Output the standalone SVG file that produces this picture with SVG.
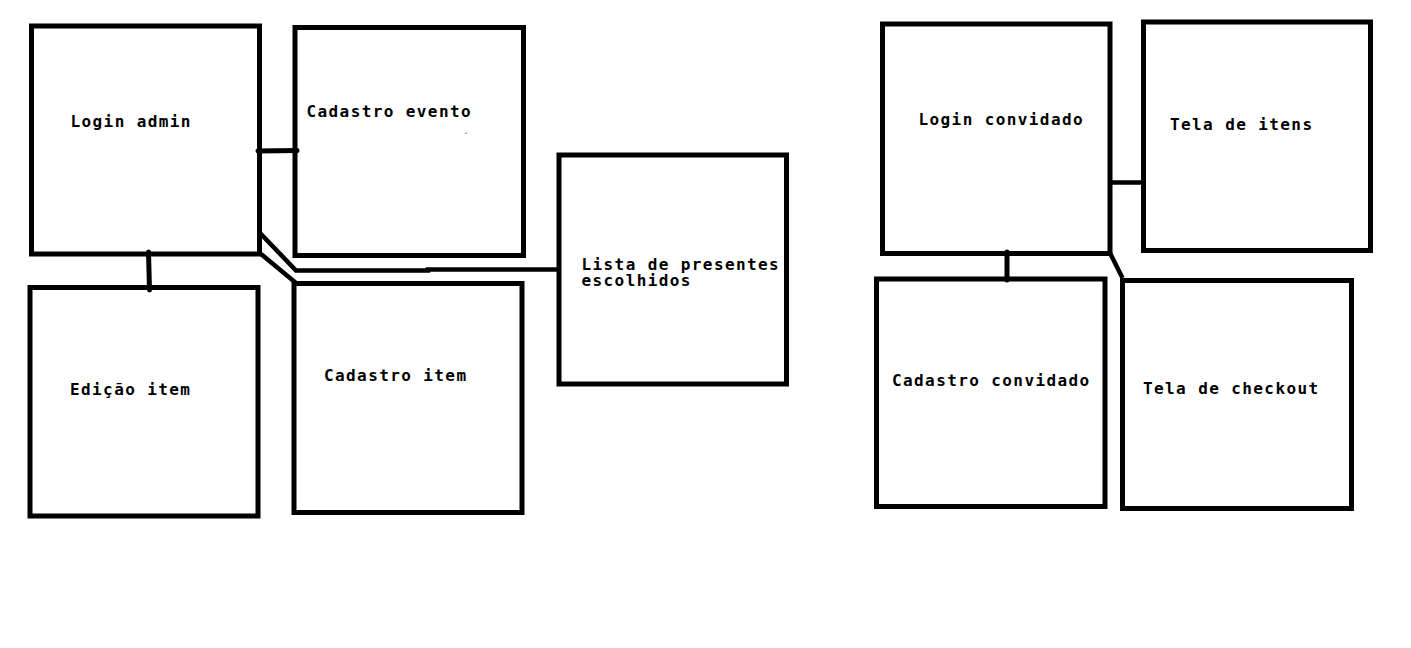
<svg xmlns="http://www.w3.org/2000/svg" width="1411" height="648" viewBox="0 0 1411 648">
<style>
.box{fill:none;stroke:#000;stroke-width:5}
.lbl{font-family:"DejaVu Sans Mono","Liberation Mono",monospace;font-weight:bold;font-size:16px;letter-spacing:1.4px;fill:#000}
.con{fill:none;stroke:#000;stroke-width:5;stroke-linecap:round;stroke-linejoin:round}
.con2{fill:none;stroke:#000;stroke-width:4.5;stroke-linecap:butt;stroke-linejoin:miter}
</style>
<rect width="1411" height="648" fill="#fff"/>
<g id="connectors">
<line class="con" x1="258" y1="151" x2="297" y2="150.5"/>
<line class="con" x1="148.5" y1="252" x2="149.5" y2="290"/>
<path class="con2" d="M259 232 L296 270.5 L428 270.5 L428 269.5 L559 269.5"/>
<path class="con2" d="M261 254 L296 283"/>
<line class="con2" x1="1110" y1="182.5" x2="1145" y2="182.5"/>
<line class="con" x1="1007" y1="252" x2="1007" y2="280"/>
<path class="con2" d="M1110 253 L1122.5 278"/>
</g>
<g id="login-admin"><rect class="box" x="31.5" y="26" width="228" height="228"/><text class="lbl" x="70.5" y="127">Login admin</text></g>
<g id="cadastro-evento"><rect class="box" x="295" y="27.5" width="228.5" height="228"/><text class="lbl" x="306.5" y="117">Cadastro evento</text><line x1="465.5" y1="134" x2="466.8" y2="132.5" stroke="#1a4fa0" stroke-width="1"/></g>
<g id="lista-presentes"><rect class="box" x="559" y="155" width="227.5" height="229"/><text class="lbl"><tspan x="581.5" y="269.5">Lista de presentes</tspan><tspan x="581.5" y="286">escolhidos</tspan></text></g>
<g id="edicao-item"><rect class="box" x="30" y="287.5" width="228" height="228.5"/><text class="lbl" x="70" y="395">Edição item</text></g>
<g id="cadastro-item"><rect class="box" x="294" y="283.5" width="228" height="229"/><text class="lbl" x="324" y="381">Cadastro item</text></g>
<g id="login-convidado"><rect class="box" x="882.5" y="24" width="227.5" height="229.5"/><text class="lbl" x="918.5" y="125">Login convidado</text></g>
<g id="tela-itens"><rect class="box" x="1143.5" y="22" width="227" height="228.5"/><text class="lbl" x="1170" y="130">Tela de itens</text></g>
<g id="cadastro-convidado"><rect class="box" x="876.5" y="279" width="228.5" height="227.5"/><text class="lbl" x="892" y="386">Cadastro convidado</text></g>
<g id="tela-checkout"><rect class="box" x="1122.5" y="280.5" width="229" height="228"/><text class="lbl" x="1143" y="394">Tela de checkout</text></g>
</svg>
